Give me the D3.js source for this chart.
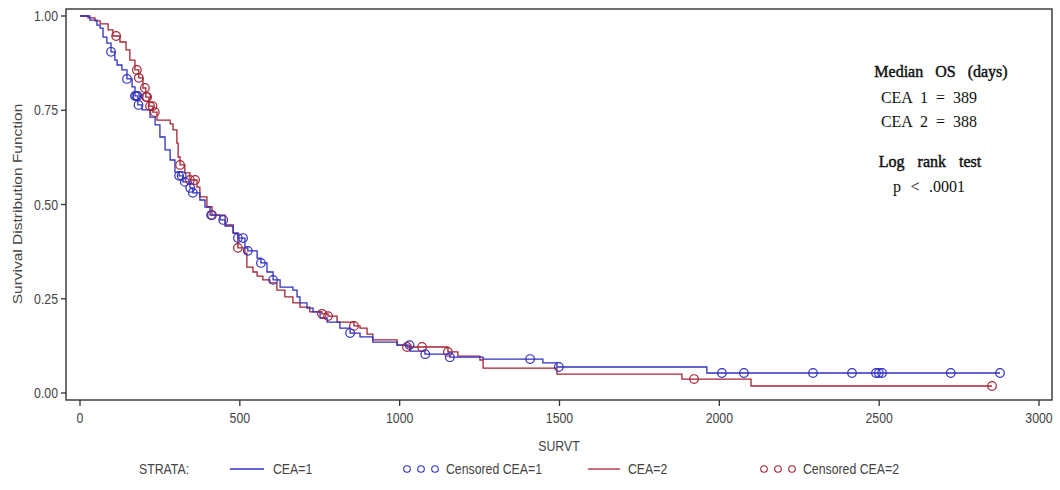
<!DOCTYPE html>
<html>
<head>
<meta charset="utf-8">
<script src="https://cdn.jsdelivr.net/npm/d3@7"></script>
<style>
  html, body { margin: 0; padding: 0; background: #fff; }
  svg { display: block; }
</style>
</head>
<body>
<svg id="chart" width="1060" height="490"></svg>
<script>
// ---- data ----
const xTicks = [0, 500, 1000, 1500, 2000, 2500, 3000];
const yTicks = [0, 0.25, 0.5, 0.75, 1.0];

// CEA=1 step curve: time (days) and survival after the step
const cea1Time = [0, 31, 53, 63, 72, 84, 97, 109, 116, 131, 147, 163, 172, 181, 194, 219, 235, 250, 266, 282, 297, 310, 322, 344, 353, 375, 391, 407, 438, 454, 479, 494, 516, 525, 554, 566, 585, 604, 626, 666, 679, 688, 710, 729, 751, 773, 813, 845, 876, 916, 992, 1032, 1079, 1157, 1261, 1448, 1492, 1961];
const cea1Surv = [1.000, 0.989, 0.976, 0.968, 0.944, 0.928, 0.905, 0.883, 0.870, 0.857, 0.833, 0.812, 0.788, 0.764, 0.751, 0.732, 0.711, 0.679, 0.645, 0.618, 0.586, 0.576, 0.560, 0.544, 0.531, 0.512, 0.493, 0.472, 0.459, 0.443, 0.424, 0.411, 0.385, 0.377, 0.358, 0.345, 0.321, 0.300, 0.281, 0.273, 0.255, 0.239, 0.225, 0.215, 0.199, 0.188, 0.172, 0.159, 0.149, 0.135, 0.127, 0.111, 0.103, 0.095, 0.090, 0.080, 0.069, 0.053];
const cea1End = 2878;
const cea1Censor = [97, 147, 172, 176, 180, 183, 310, 318, 328, 345, 353, 410, 448, 494, 510, 525, 566, 604, 845, 1031, 1080, 1157, 1408, 1498, 2008, 2077, 2293, 2415, 2490, 2499, 2509, 2724, 2878];

// CEA=2 step curve
const cea2Time = [0, 25, 47, 63, 88, 103, 125, 144, 156, 172, 184, 197, 206, 216, 228, 241, 282, 291, 303, 307, 313, 328, 344, 366, 375, 397, 413, 454, 479, 494, 516, 522, 541, 554, 572, 594, 616, 641, 666, 688, 719, 757, 776, 804, 857, 876, 898, 916, 992, 1023, 1151, 1182, 1251, 1261, 1492, 1883, 2099];
const cea2Surv = [1.000, 0.995, 0.987, 0.979, 0.963, 0.947, 0.931, 0.910, 0.883, 0.857, 0.836, 0.809, 0.785, 0.761, 0.745, 0.724, 0.714, 0.698, 0.663, 0.626, 0.605, 0.584, 0.565, 0.546, 0.520, 0.494, 0.472, 0.446, 0.424, 0.385, 0.371, 0.334, 0.321, 0.310, 0.300, 0.292, 0.273, 0.255, 0.239, 0.228, 0.215, 0.210, 0.204, 0.188, 0.178, 0.172, 0.156, 0.141, 0.127, 0.122, 0.109, 0.098, 0.0875, 0.066, 0.050, 0.037, 0.0186];
const cea2End = 2853;
const cea2Censor = [113, 178, 184, 203, 207, 210, 219, 227, 234, 313, 344, 360, 413, 494, 757, 776, 857, 1023, 1070, 1151, 1921, 2853];

const annotationLines = ["Median OS (days)", "CEA 1 = 389", "CEA 2 = 388", "Log rank test", "p < .0001"];
const legendLabels = ["STRATA:", "CEA=1", "Censored CEA=1", "CEA=2", "Censored CEA=2"];

// ---- styles ----
const BLUE = "#3030c0";
const RED = "#a42434";
const AXIS = "#333333";
const TXT = "#444444";
const SANS = "'Liberation Sans', Arial, sans-serif";
const SERIF = "'Liberation Serif', 'DejaVu Serif', serif";
const SX = 0.82; // horizontal squeeze of the sans labels

const svg = d3.select("#chart");
const frame = {left: 66, right: 1052, top: 9, bottom: 400};

const x = d3.scaleLinear().domain([0, 3000]).range([80, 1039]);
const y = d3.scaleLinear().domain([0, 1]).range([393, 16]);

function sqText(g, tx, ty, str, anchor, size) {
  return g.append("text")
    .attr("transform", `translate(${tx},${ty}) scale(${SX},1)`)
    .attr("text-anchor", anchor || "start")
    .attr("font-family", SANS)
    .attr("font-size", size || 15)
    .attr("fill", TXT)
    .text(str);
}

// frame
svg.append("rect")
  .attr("x", frame.left).attr("y", frame.top)
  .attr("width", frame.right - frame.left).attr("height", frame.bottom - frame.top)
  .attr("fill", "none").attr("stroke", AXIS).attr("stroke-width", 1.4);

// x axis ticks
const gx = svg.append("g");
xTicks.forEach(v => {
  gx.append("line").attr("x1", x(v)).attr("x2", x(v))
    .attr("y1", frame.bottom).attr("y2", frame.bottom + 6)
    .attr("stroke", AXIS).attr("stroke-width", 1.3);
  sqText(gx, x(v), 423, d3.format("d")(v), "middle", 15);
});
// y axis ticks
const gy = svg.append("g");
yTicks.forEach(v => {
  gy.append("line").attr("x1", frame.left - 5).attr("x2", frame.left)
    .attr("y1", y(v)).attr("y2", y(v))
    .attr("stroke", AXIS).attr("stroke-width", 1.3);
  sqText(gy, frame.left - 8, y(v) + 5, d3.format(".2f")(v), "end", 15);
});

// axis titles
sqText(svg, 559, 451, "SURVT", "middle", 15);
svg.append("text")
  .attr("transform", `translate(22,204) rotate(-90) scale(1,${SX + 0.05})`)
  .attr("text-anchor", "middle")
  .attr("font-family", SANS).attr("font-size", 15.5).attr("fill", TXT)
  .text("Survival Distribution Function");

// step curves
function stepPoints(times, surv, end) {
  const pts = times.map((t, i) => [t, surv[i]]);
  pts.push([end, surv[surv.length - 1]]);
  return pts;
}
function survAt(times, surv, t) {
  let s = surv[0];
  for (let i = 0; i < times.length; i++) { if (times[i] <= t) s = surv[i]; }
  return s;
}
const line = d3.line().x(d => x(d[0])).y(d => y(d[1])).curve(d3.curveStepAfter);

const plot = svg.append("g");
plot.append("path").datum(stepPoints(cea2Time, cea2Surv, cea2End))
  .attr("d", line).attr("fill", "none").attr("stroke", RED).attr("stroke-width", 1.3);
plot.append("path").datum(stepPoints(cea1Time, cea1Surv, cea1End))
  .attr("d", line).attr("fill", "none").attr("stroke", BLUE).attr("stroke-width", 1.3);

plot.selectAll("circle.c2").data(cea2Censor).enter().append("circle")
  .attr("class", "c2")
  .attr("cx", d => x(d)).attr("cy", d => y(survAt(cea2Time, cea2Surv, d)))
  .attr("r", 4.3).attr("fill", "none").attr("stroke", RED).attr("stroke-width", 1.2);
plot.selectAll("circle.c1").data(cea1Censor).enter().append("circle")
  .attr("class", "c1")
  .attr("cx", d => x(d)).attr("cy", d => y(survAt(cea1Time, cea1Surv, d)))
  .attr("r", 4.3).attr("fill", "none").attr("stroke", BLUE).attr("stroke-width", 1.2);

// annotation
const ann = svg.append("g").attr("font-family", SERIF).attr("font-size", 16).attr("fill", "#111");
// [cx, baseline, word-spacing, heavier]
const annPos = [[941, 77, 8, true], [929, 103, 4, false], [929, 127, 4, false], [930, 167, 9, true], [929, 192, 5.5, false]];
annotationLines.forEach((s, i) => {
  const t = ann.append("text").attr("x", annPos[i][0]).attr("y", annPos[i][1])
    .attr("text-anchor", "middle").attr("word-spacing", annPos[i][2]).text(s);
  if (annPos[i][3]) t.attr("stroke", "#111").attr("stroke-width", 0.45);
});

// legend
const lg = svg.append("g");
const ly = 474;
sqText(lg, 139, ly, legendLabels[0], "start", 15);
lg.append("line").attr("x1", 230).attr("x2", 264).attr("y1", ly - 5).attr("y2", ly - 5)
  .attr("stroke", BLUE).attr("stroke-width", 1.3);
sqText(lg, 273, ly, legendLabels[1], "start", 15);
[407, 421, 435].forEach(cx => lg.append("circle").attr("cx", cx).attr("cy", ly - 5).attr("r", 3.3)
  .attr("fill", "none").attr("stroke", BLUE).attr("stroke-width", 1.1));
sqText(lg, 446, ly, legendLabels[2], "start", 15);
lg.append("line").attr("x1", 588).attr("x2", 620).attr("y1", ly - 5).attr("y2", ly - 5)
  .attr("stroke", RED).attr("stroke-width", 1.3);
sqText(lg, 628, ly, legendLabels[3], "start", 15);
[764, 778, 792].forEach(cx => lg.append("circle").attr("cx", cx).attr("cy", ly - 5).attr("r", 3.3)
  .attr("fill", "none").attr("stroke", RED).attr("stroke-width", 1.1));
sqText(lg, 803, ly, legendLabels[4], "start", 15);
</script>
</body>
</html>
